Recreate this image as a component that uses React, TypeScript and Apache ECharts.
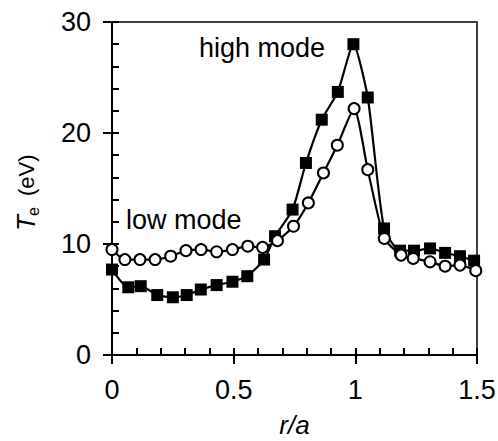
import React, { useEffect, useRef } from "react";
import * as echarts from "echarts";

const highX = [0, 0.067, 0.118, 0.186, 0.25, 0.307, 0.365, 0.43, 0.495, 0.556, 0.625, 0.67, 0.742, 0.797, 0.862, 0.928, 0.992, 1.051, 1.118, 1.184, 1.241, 1.307, 1.369, 1.43, 1.488];
const highY = [7.7, 6.1, 6.2, 5.4, 5.2, 5.4, 5.9, 6.3, 6.6, 7.1, 8.6, 10.7, 13.1, 17.3, 21.2, 23.7, 28.0, 23.2, 11.4, 9.4, 9.4, 9.6, 9.2, 8.9, 8.5];
const lowX = [0, 0.053, 0.115, 0.177, 0.241, 0.304, 0.366, 0.43, 0.495, 0.558, 0.619, 0.68, 0.746, 0.807, 0.869, 0.926, 0.995, 1.051, 1.119, 1.188, 1.238, 1.307, 1.369, 1.43, 1.495];
const lowY = [9.5, 8.6, 8.6, 8.6, 8.9, 9.4, 9.5, 9.3, 9.5, 9.8, 9.7, 10.3, 11.6, 13.7, 16.4, 18.9, 22.2, 16.7, 10.5, 9.0, 8.7, 8.4, 8.0, 8.1, 7.6];
const xTicks = [0, 0.5, 1, 1.5];
const yTicks = [0, 10, 20, 30];

const FONT = "Liberation Sans, Arial, sans-serif";

export default function App() {
  const ref = useRef<HTMLDivElement>(null);
  useEffect(() => {
    if (!ref.current) return;
    const chart = echarts.init(ref.current, null, { renderer: "svg" });
    const grid = {
      left: 112, right: 21, top: 22, bottom: 86,
      show: true, borderColor: "#000", borderWidth: 1.5, backgroundColor: "transparent",
      containLabel: false, outerBoundsMode: "none",
    };
    const xBase = { type: "value", min: xTicks[0], max: xTicks[xTicks.length - 1], interval: 0.5, splitLine: { show: false } };
    const yBase = { type: "value", min: yTicks[0], max: yTicks[yTicks.length - 1], interval: 10, splitLine: { show: false } };
    chart.setOption({
      animation: false,
      backgroundColor: "#fff",
      grid,
      xAxis: [
        {
          ...xBase,
          position: "bottom",
          axisLine: { show: true, lineStyle: { color: "#000", width: 2 } },
          axisTick: { show: true, inside: false, length: 9, lineStyle: { color: "#000", width: 2 } },
          axisLabel: { show: true, color: "#000", fontSize: 27, fontFamily: FONT, margin: 21, formatter: (v: number) => String(v) },
          name: "r/a",
          nameLocation: "middle",
          nameGap: 57,
          nameTextStyle: { color: "#000", fontSize: 26, fontStyle: "italic", fontFamily: FONT },
        },
        {
          ...xBase,
          position: "bottom",
          axisLine: { show: false },
          axisTick: { show: true, inside: true, length: 7, lineStyle: { color: "#000", width: 2 } },
          minorTick: { show: true, splitNumber: 5, length: 7, lineStyle: { color: "#000", width: 2 } },
          axisLabel: { show: false },
        },
      ],
      yAxis: [
        {
          ...yBase,
          position: "left",
          axisLine: { show: true, lineStyle: { color: "#000", width: 2 } },
          axisTick: { show: true, inside: false, length: 9, lineStyle: { color: "#000", width: 2 } },
          axisLabel: { show: true, color: "#000", fontSize: 27, fontFamily: FONT, margin: 21 },
        },
        {
          ...yBase,
          position: "left",
          axisLine: { show: false },
          axisTick: { show: true, inside: true, length: 7, lineStyle: { color: "#000", width: 2 } },
          minorTick: { show: true, splitNumber: 5, length: 7, lineStyle: { color: "#000", width: 2 } },
          axisLabel: { show: false },
        },
      ],
      series: [
        {
          type: "line",
          name: "high mode",
          data: highX.map((x, i) => [x, highY[i]]),
          smooth: 0.2,
          symbol: "rect",
          symbolSize: 12,
          itemStyle: { color: "#000", borderColor: "#000", borderWidth: 0 },
          lineStyle: { color: "#000", width: 2.2 },
          z: 2,
        },
        {
          type: "line",
          name: "low mode",
          data: lowX.map((x, i) => [x, lowY[i]]),
          smooth: 0.2,
          symbol: "circle",
          symbolSize: 11,
          showAllSymbol: true,
          itemStyle: { color: "#fff", borderColor: "#000", borderWidth: 2 },
          lineStyle: { color: "#000", width: 2.2 },
          z: 3,
        },
      ],
      graphic: [
        { type: "text", left: 199, top: 34, style: { text: "high mode", font: `27px ${FONT}`, fill: "#000" } },
        { type: "text", left: 126, top: 206, style: { text: "low mode", font: `27px ${FONT}`, fill: "#000" } },
        {
          type: "group",
          x: 26,
          y: 231,
          rotation: Math.PI / 2,
          children: [
            { type: "text", x: 0, y: 0, style: { text: "T", font: `italic 26px ${FONT}`, fill: "#000", verticalAlign: "middle", align: "left" } },
            { type: "text", x: 15, y: 7, style: { text: "e", font: `16px ${FONT}`, fill: "#000", verticalAlign: "middle", align: "left" } },
            { type: "text", x: 35, y: 0, style: { text: "(eV)", font: `22px ${FONT}`, fill: "#000", verticalAlign: "middle", align: "left" } },
          ],
        },
      ],
    });
    return () => chart.dispose();
  }, []);
  return <div ref={ref} style={{ width: 498, height: 441, position: "absolute", left: 0, top: 0 }} />;
}
